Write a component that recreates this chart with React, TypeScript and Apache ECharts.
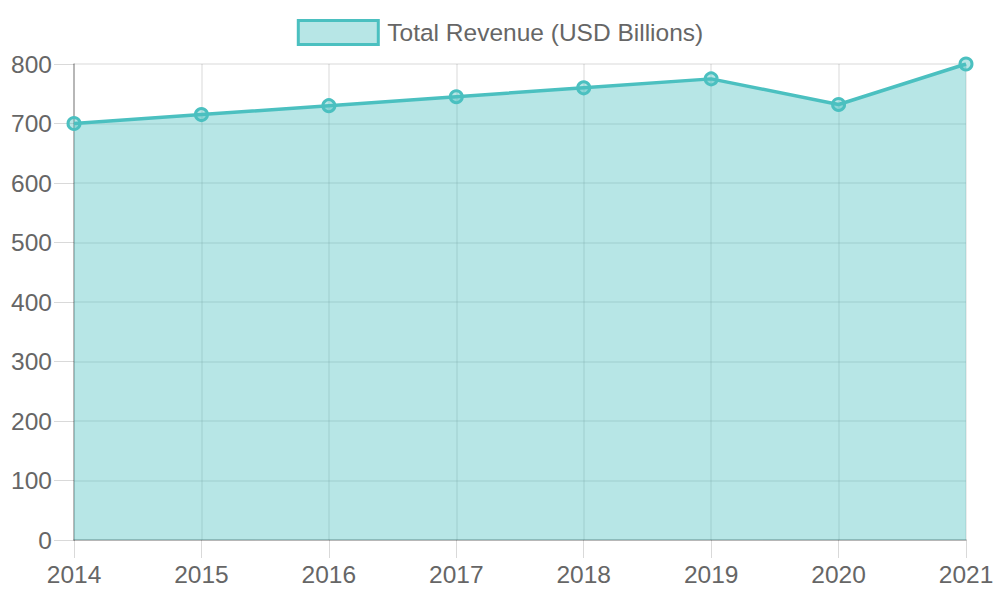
import { useEffect, useRef } from 'react'
import * as echarts from 'echarts'

const years = ['2014', '2015', '2016', '2017', '2018', '2019', '2020', '2021']
const revenue = [700, 715, 730, 745, 760, 775, 732, 800]
const seriesName = 'Total Revenue (USD Billions)'

const lineColor = '#4BC0C0'
const fillColor = 'rgba(75,192,192,0.4)'
const textColor = '#666'
const font = '"Liberation Sans", Arial, Helvetica, sans-serif'

const App = () => {
  const chartRef = useRef<HTMLDivElement>(null)

  useEffect(() => {
    if (!chartRef.current) return
    const chart = echarts.init(chartRef.current, null, { renderer: 'svg' })

    const option = {
      animation: false,
      textStyle: { fontFamily: font },
      legend: {
        top: 14,
        left: 'center',
        itemWidth: 80,
        itemHeight: 24,
        itemGap: 10,
        textStyle: { color: textColor, fontSize: 24.5, fontFamily: font, padding: [0, 0, 0, 4] },
        data: [
          {
            name: seriesName,
            icon: 'rect',
            itemStyle: { color: fillColor, borderColor: lineColor, borderWidth: 3 }
          }
        ]
      },
      grid: { left: 74, right: 34, top: 64, bottom: 60, containLabel: false },
      xAxis: {
        type: 'category',
        data: years,
        boundaryGap: false,
        axisLine: { lineStyle: { color: 'rgba(0,0,0,0.3)', width: 1.5 } },
        axisTick: { show: true, length: 18, lineStyle: { color: 'rgba(0,0,0,0.15)' } },
        axisLabel: { color: textColor, fontSize: 24.5, margin: 22, fontFamily: font },
        splitLine: { show: true, lineStyle: { color: 'rgba(0,0,0,0.1)', width: 1.5 } }
      },
      yAxis: {
        type: 'value',
        min: 0,
        max: 800,
        interval: 100,
        axisLine: { show: true, lineStyle: { color: 'rgba(0,0,0,0.3)', width: 1.5 } },
        axisTick: { show: true, length: 20, lineStyle: { color: 'rgba(0,0,0,0.15)' } },
        axisLabel: { color: textColor, fontSize: 24.5, margin: 22, fontFamily: font },
        splitLine: { show: true, lineStyle: { color: 'rgba(0,0,0,0.1)', width: 1.5 } }
      },
      series: [
        {
          name: seriesName,
          type: 'line',
          data: revenue,
          symbol: 'circle',
          symbolSize: 12,
          showAllSymbol: true,
          lineStyle: { color: lineColor, width: 3.5 },
          itemStyle: { color: fillColor, borderColor: lineColor, borderWidth: 3 },
          areaStyle: { color: fillColor, opacity: 1 }
        }
      ]
    }

    chart.setOption(option)
    return () => {
      chart.dispose()
    }
  }, [])

  return (
    <div
      ref={chartRef}
      style={{ position: 'absolute', left: 0, top: 0, width: '1000px', height: '600px' }}
    />
  )
}

export default App
